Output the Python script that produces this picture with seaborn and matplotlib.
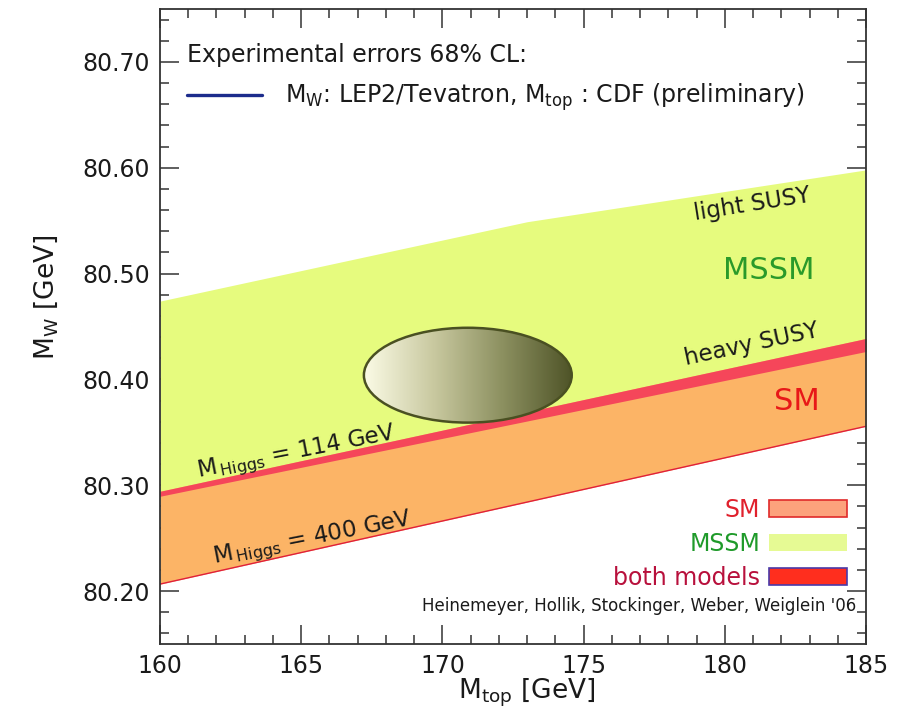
import numpy as np
import matplotlib
matplotlib.use("Agg")
import matplotlib.pyplot as plt
import seaborn as sns
from matplotlib.patches import Ellipse, Patch
from matplotlib.lines import Line2D
from matplotlib.colors import LinearSegmentedColormap
from matplotlib.ticker import MultipleLocator, FormatStrFormatter

# ---------------- data ----------------
mtop = [160.0, 173.0, 185.0]                  # M_top grid [GeV]
mssm_high = [80.474, 80.549, 80.598]          # MSSM upper edge (light SUSY)
mssm_low = [80.2896, 80.3607, 80.4264]        # MSSM lower edge (heavy SUSY)
sm_high = [80.2943, 80.3694, 80.4387]         # SM, M_Higgs = 114 GeV
sm_low = [80.2066, 80.2841, 80.3557]          # SM, M_Higgs = 400 GeV

exp_mtop = 170.9       # ellipse centre, M_top
exp_mw = 80.404        # ellipse centre, M_W
exp_dmtop = 3.68       # half-axis in M_top
exp_dmw = 0.0448       # half-axis in M_W

x_ticks = [160, 165, 170, 175, 180, 185]
y_ticks = [80.20, 80.30, 80.40, 80.50, 80.60, 80.70]
legend_labels = ["SM", "MSSM", "both models"]

# ---------------- style ----------------
sns.set_theme(style="ticks")
plt.rcParams["font.family"] = ["DejaVu Sans"]
plt.rcParams["mathtext.fontset"] = "dejavusans"

GREEN = "#e6fb7e"
ORANGE = "#fcb466"
RED = "#f5465a"
TXT = "#1a1a1a"

fig = plt.figure(figsize=(9.12, 7.11), dpi=100)
ax = fig.add_axes([160 / 912, 1 - 644 / 711, 706 / 912, 635 / 711])

# bands
ax.fill_between(mtop, mssm_low, mssm_high, color=GREEN, lw=0, zorder=1)
ax.fill_between(mtop, sm_low, sm_high, color=ORANGE, lw=0, zorder=1.5)
ax.fill_between(mtop, mssm_low, sm_high, color=RED, lw=0, zorder=2)
sns.lineplot(x=mtop, y=sm_low, color="#e0203a", lw=1.0, ax=ax, zorder=2.2)

# experimental ellipse with gradient
cmap = LinearSegmentedColormap.from_list(
    "exp", ["#fbfbe6", "#c9c9a0", "#8c9060", "#4f5428"])
ell_clip = Ellipse((exp_mtop, exp_mw), 2 * exp_dmtop, 2 * exp_dmw,
                   facecolor="none", edgecolor="none", transform=ax.transData)
ax.add_patch(ell_clip)
grad = np.linspace(0, 1, 256).reshape(1, -1)
im = ax.imshow(grad, cmap=cmap, aspect="auto", interpolation="bicubic",
               extent=[exp_mtop - exp_dmtop, exp_mtop + exp_dmtop,
                       exp_mw - exp_dmw, exp_mw + exp_dmw], zorder=3)
im.set_clip_path(ell_clip)
ax.add_patch(Ellipse((exp_mtop, exp_mw), 2 * exp_dmtop, 2 * exp_dmw,
                     facecolor="none", edgecolor="#4a5022", lw=1.8, zorder=4))

# axes
ax.set_xlim(160, 185)
ax.set_ylim(80.15, 80.75)
ax.set_xticks(x_ticks)
ax.set_yticks(y_ticks)
ax.xaxis.set_minor_locator(MultipleLocator(1))
ax.yaxis.set_minor_locator(MultipleLocator(0.02))
ax.yaxis.set_major_formatter(FormatStrFormatter("%.2f"))
ax.tick_params(which="both", direction="in", top=True, right=True,
               color="#333333", width=1.1, labelsize=17, labelcolor=TXT)
ax.tick_params(which="major", length=14, pad=7)
ax.tick_params(which="minor", length=6.5)
for s in ax.spines.values():
    s.set_linewidth(1.3)
    s.set_color("#333333")
    s.set_zorder(10)

ax.set_xlabel(r"$\mathrm{M_{top}}$ [GeV]", fontsize=19, color=TXT)
ax.set_ylabel(r"$\mathrm{M_W}$ [GeV]", fontsize=19, color=TXT)
ax.xaxis.set_label_coords(0.52, -0.052)
ax.yaxis.set_label_coords(-0.1415, 0.546)

# in-plot labels
ax.text(180.96, 80.565, "light SUSY", rotation=9, fontsize=16.5, color=TXT,
        ha="center", va="center", zorder=6)
ax.text(181.57, 80.503, "MSSM", fontsize=22, color="#2a9a2a",
        ha="center", va="center", zorder=6)
ax.text(180.94, 80.433, "heavy SUSY", rotation=12, fontsize=16.5, color=TXT,
        ha="center", va="center", zorder=6)
ax.text(182.56, 80.379, "SM", fontsize=22, color="#e81818",
        ha="center", va="center", zorder=6)
ax.text(164.85, 80.330, r"$\mathrm{M_{\,Higgs}}$ = 114 GeV", rotation=11,
        fontsize=16.5, color=TXT, ha="center", va="center", zorder=6)
ax.text(165.42, 80.249, r"$\mathrm{M_{\,Higgs}}$ = 400 GeV", rotation=11,
        fontsize=16.5, color=TXT, ha="center", va="center", zorder=6)
ax.text(184.65, 80.186, "Heinemeyer, Hollik, Stockinger, Weber, Weiglein '06",
        fontsize=12, color=TXT, ha="right", va="center", zorder=6)

# top-left legend (experimental errors)
h_exp = Line2D([], [], color="#1c2c8c", lw=2.4)
leg1 = ax.legend([h_exp],
                 [r"$\mathrm{M_W}$: LEP2/Tevatron, $\mathrm{M_{top}}$ : CDF (preliminary)"],
                 title="Experimental errors 68% CL:", loc="upper left",
                 bbox_to_anchor=(0.038, 0.947), frameon=False, fontsize=17,
                 title_fontsize=17, handlelength=3.2, handletextpad=0.97,
                 alignment="left", borderaxespad=0, borderpad=0,
                 labelspacing=0.63)
leg1.get_title().set_color(TXT)
for t in leg1.get_texts():
    t.set_color(TXT)
ax.add_artist(leg1)

# bottom-right legend (models)
handles2 = [Patch(facecolor="#fca27c", edgecolor="#e02a2a", lw=1.2),
            Patch(facecolor="#e6fa94", edgecolor="none"),
            Patch(facecolor="#ff2e1e", edgecolor="#4a3aa8", lw=1.2)]
leg2 = ax.legend(handles2, legend_labels, loc="upper right",
                 bbox_to_anchor=(0.9735, 0.230), markerfirst=False,
                 frameon=False, fontsize=17, handlelength=3.3,
                 handleheight=0.75, handletextpad=0.4, labelspacing=0.415,
                 borderaxespad=0, borderpad=0,
                 labelcolor=["#e0202c", "#1f9a2a", "#b8103c"])

fig.savefig("out.png", dpi=100)
